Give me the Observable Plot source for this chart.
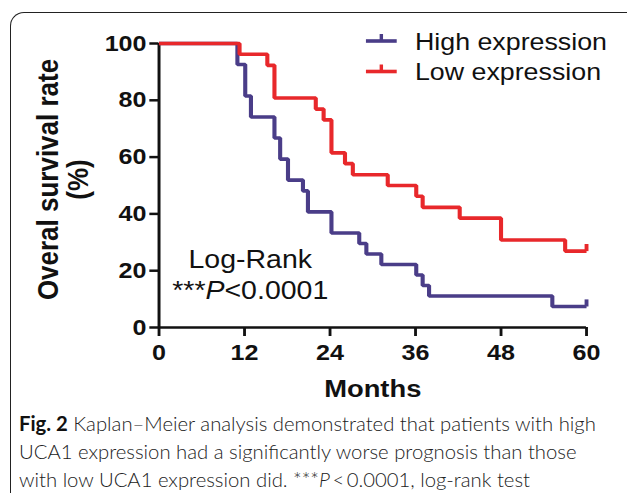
<!DOCTYPE html>
<html><head><meta charset="utf-8">
<script src="https://cdn.jsdelivr.net/npm/d3@7"></script>
<script src="https://cdn.jsdelivr.net/npm/@observablehq/plot@0.6"></script>
<style>
html,body{margin:0;padding:0;background:#fff;}
#fig{position:relative;width:627px;height:495px;overflow:hidden;background:#fff;}
#frame{position:absolute;left:10px;top:12px;width:640px;height:480px;border-top:1.6px solid #222;border-left:1.6px solid #222;border-top-left-radius:14px;}
#chart{position:absolute;left:0;top:0;}
#caption{position:absolute;left:19px;top:409px;font-family:Lato,"Open Sans",sans-serif;font-weight:300;font-size:20.3px;line-height:28px;color:#222;white-space:nowrap;}
#caption b{color:#111;font-weight:700}
#chart svg [aria-label="x-axis tick label"] text,
#chart svg [aria-label="y-axis tick label"] text{font-size:22px;font-weight:bold;fill:#111;}
#chart svg [aria-label="x-axis tick"] *,
#chart svg [aria-label="y-axis tick"] *{stroke:#111;stroke-width:2.5px;}
</style></head><body>
<div id="fig"><div id="frame"></div><div id="chart"></div><div id="caption"></div></div>
<script>
// ---- data ----
const seriesNames = ["High expression", "Low expression"];
const seriesColors = ["#4a3d88", "#e8282b"];
const highTimes = [0, 11.0, 12.1, 12.9, 16.2, 17.0, 18.1, 20.2, 20.9, 24.2, 28.1, 29.1, 31.2, 36.1, 37.0, 37.9, 55.2, 60];
const highSurv  = [100, 92.6, 81.5, 74.1, 66.7, 59.3, 51.9, 48.1, 40.7, 33.3, 29.6, 25.9, 22.2, 18.5, 14.8, 11.1, 7.4, 7.4];
const lowTimes  = [0, 11.3, 15.2, 16.2, 22.0, 23.1, 24.2, 26.1, 27.2, 32.1, 36.1, 37.0, 42.2, 48.0, 57.0, 60];
const lowSurv   = [100, 96.2, 92.3, 80.8, 76.9, 73.1, 61.5, 57.7, 53.8, 50.0, 46.2, 42.3, 38.5, 30.8, 26.9, 26.9];
const censorTimes = [60, 60];
const censorSurv  = [7.4, 26.9];
const xTicks = [0, 12, 24, 36, 48, 60];
const yTicks = [0, 20, 40, 60, 80, 100];
const xTitle = "Months";
const yTitle = ["Overal survival rate", "(%)"];
const statLines = ["Log-Rank", "***P<0.0001"];
const captionLines = [
  "<b>Fig. 2</b> Kaplan–Meier analysis demonstrated that patients with high",
  "UCA1 expression had a significantly worse prognosis than those",
  "with low UCA1 expression did. ***<i>P</i>&thinsp;&lt;&thinsp;0.0001, log-rank test"
];

// ---- build tables ----
const high = highTimes.map((t, i) => ({t, s: highSurv[i]}));
const low = lowTimes.map((t, i) => ({t, s: lowSurv[i]}));
const censors = censorTimes.map((t, i) => ({t, s: censorSurv[i], g: i}));

const W = 550, H = 400, SCREEN_W = 627;
const font = "'Liberation Sans', Arial, Helvetica, sans-serif";
const censorSymbol = {draw(ctx, size) { const h = Math.sqrt(size); ctx.moveTo(0, 0); ctx.lineTo(0, -h); }};
const txt = {text: d => d, textAnchor: "middle", lineAnchor: "middle", fill: "#111"};

const plot = Plot.plot({
  width: W, height: H,
  marginLeft: 139, marginRight: 36, marginTop: 43, marginBottom: 73,
  style: {fontFamily: font, background: "transparent", overflow: "visible", color: "#111"},
  x: {domain: [0, 60]},
  y: {domain: [0, 100]},
  marks: [
    Plot.axisX({ticks: xTicks, tickSize: 9, tickPadding: 8, label: null, fontSize: 22}),
    Plot.axisY({ticks: yTicks, tickSize: 8, tickPadding: 3, label: null, fontSize: 22}),
    Plot.ruleY([0], {stroke: "#111", strokeWidth: 2.6}),
    Plot.ruleX([0], {stroke: "#111", strokeWidth: 2.6}),
    Plot.line(high, {x: "t", y: "s", curve: "step-after", stroke: seriesColors[0], strokeWidth: 3.6, strokeLinejoin: "miter", strokeLinecap: "butt"}),
    Plot.line(low, {x: "t", y: "s", curve: "step-after", stroke: seriesColors[1], strokeWidth: 3.6, strokeLinejoin: "miter", strokeLinecap: "butt"}),
    Plot.dot(censors, {x: "t", y: "s", symbol: censorSymbol, r: 4, fill: "none", stroke: d => seriesColors[d.g], strokeWidth: 3.4}),
    Plot.text([xTitle], {...txt, frameAnchor: "bottom", dy: 62, fontSize: 24, fontWeight: "bold"}),
    Plot.text([yTitle[0]], {...txt, frameAnchor: "left", rotate: -90, dx: -97, dy: -6, fontSize: 26, fontWeight: "bold"}),
    Plot.text([yTitle[1]], {...txt, frameAnchor: "left", rotate: -90, dx: -71, dy: -6, fontSize: 26, fontWeight: "bold"}),
    Plot.text([statLines[0]], {...txt, frameAnchor: "bottom-left", dx: 80, dy: -68, fontSize: 25}),
    Plot.text([statLines[1]], {...txt, frameAnchor: "bottom-left", dx: 80, dy: -37, fontSize: 25})
  ]
});

// stretch horizontally like the reference figure
plot.setAttribute("width", SCREEN_W);
plot.setAttribute("preserveAspectRatio", "none");
plot.style.height = H + "px";
plot.style.width = SCREEN_W + "px";
plot.style.maxWidth = "none";

// italic P in the statistics line
d3.select(plot).selectAll("text").each(function() {
  if (this.textContent === statLines[1]) {
    const parts = statLines[1].split("P");
    this.textContent = "";
    const sel = d3.select(this);
    sel.append("tspan").text(parts[0]);
    sel.append("tspan").attr("font-style", "italic").text("P");
    sel.append("tspan").text(parts[1]);
  }
});

// legend inside the plot area (top right)
const lg = d3.select(plot).append("g").attr("font-family", font);
seriesNames.forEach((name, i) => {
  const y = 41 + i * 30.5;
  lg.append("line").attr("x1", 321).attr("x2", 348).attr("y1", y).attr("y2", y)
    .attr("stroke", seriesColors[i]).attr("stroke-width", 3.6);
  lg.append("line").attr("x1", 334.5).attr("x2", 334.5).attr("y1", y).attr("y2", y - 7)
    .attr("stroke", seriesColors[i]).attr("stroke-width", 3);
  lg.append("text").attr("x", 364).attr("y", y).attr("dy", "0.37em").attr("text-anchor", "start")
    .attr("font-size", 23.5).attr("fill", "#111").text(name);
});

document.getElementById("chart").appendChild(plot);
document.getElementById("caption").innerHTML = captionLines.join("<br>");
</script>
</body></html>
